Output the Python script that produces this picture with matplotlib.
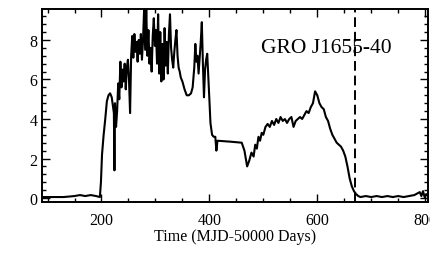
import matplotlib
matplotlib.use("Agg")
import matplotlib.pyplot as plt
from matplotlib.ticker import MultipleLocator

# light curve (MJD-50000, flux)
t = [90, 110, 130, 150, 160, 170, 180, 190, 197,
     199, 201, 204, 207, 210, 213, 216, 219, 221, 223, 224, 225, 227, 229,
     231, 233, 235, 237, 239, 241, 243, 245, 247, 249, 251, 253, 255, 257,
     259, 261, 263, 265, 267, 269, 271, 273, 275, 277, 279, 281, 283, 285,
     287, 289, 291, 293, 295, 297, 299, 301, 303, 305, 307, 309, 311, 313,
     315, 317, 319, 321, 323, 325, 327, 329, 331, 333, 335, 337, 339, 341,
     343, 345, 347, 350, 354, 358, 362, 366, 369, 372, 374, 376, 378, 380,
     382, 384, 386, 388, 390, 392, 394, 396, 398, 400, 402, 405, 408, 411,
     413, 415, 440, 460, 465, 470, 474, 478, 482, 485, 488, 491, 494, 497,
     500, 504, 508, 512, 516, 520, 524, 528, 532, 536, 540, 544, 548, 552,
     556, 560, 564, 568, 572, 576, 580, 584, 588, 592, 596, 600, 604, 608,
     612, 616, 620, 624, 628, 632, 636, 640, 644, 648, 652, 656, 660, 664,
     668, 672, 676, 680, 690, 700, 710, 720, 730, 740, 750, 760, 770, 780,
     790, 793, 796, 799, 802, 805]
flux = [0.05, 0.05, 0.05, 0.1, 0.15, 0.1, 0.15, 0.1, 0.05,
        0.8, 2.2, 3.2, 4.0, 4.9, 5.2, 5.3, 5.1, 4.7, 4.3, 1.4, 4.8, 3.6, 4.4,
        5.8, 5.0, 6.9, 5.6, 6.5, 5.9, 6.8, 5.5, 6.6, 7.0, 6.0, 4.3, 7.2, 8.2,
        7.1, 8.3, 7.4, 7.9, 6.9, 8.0, 7.3, 8.3, 7.0, 8.0, 9.5, 7.5, 9.6, 7.2,
        8.5, 6.8, 7.6, 6.4, 8.2, 9.1, 7.7, 8.5, 6.8, 9.3, 6.3, 8.4, 5.9, 7.8,
        6.0, 8.6, 6.7, 7.9, 6.3, 8.3, 9.3, 7.6, 7.0, 6.6, 7.4, 8.0, 8.5, 7.2,
        6.6, 6.4, 6.1, 5.9, 5.5, 5.2, 5.2, 5.3, 5.6, 6.6, 7.8, 6.9, 7.2, 6.3,
        7.1, 7.9, 8.9, 6.8, 5.1, 6.5, 7.0, 7.3, 6.2, 5.0, 3.8, 3.2, 3.1, 3.1,
        2.4, 2.9, 2.85, 2.8, 2.4, 1.6, 1.9, 2.3, 2.1, 2.7, 2.5, 3.1, 2.9, 3.3,
        3.2, 3.6, 3.75, 3.6, 3.9, 3.7, 4.0, 3.8, 4.1, 3.9, 4.0, 3.8, 4.0, 4.1,
        3.6, 3.9, 4.0, 4.1, 4.0, 4.2, 4.4, 4.3, 4.6, 4.8, 5.4, 5.2, 4.8, 4.6,
        4.5, 4.1, 3.9, 3.5, 3.2, 3.0, 2.8, 2.7, 2.6, 2.4, 2.1, 1.6, 1.0, 0.6,
        0.35, 0.2, 0.1, 0.05, 0.1, 0.05, 0.1, 0.05, 0.1, 0.05, 0.1, 0.05, 0.1, 0.15,
        0.3, 0.1, 0.35, 0.05, 0.2, 0.1]
t_mark = 670
source = "GRO J1655-40"

plt.rcParams["font.family"] = ["Liberation Serif", "DejaVu Serif"]

fig = plt.figure(figsize=(4.3, 2.55), dpi=100)
ax = fig.add_axes([0.098, 0.204, 0.897, 0.757])

ax.plot(t, flux, color="black", lw=1.5)
ax.axvline(t_mark, color="black", lw=1.4, ls=(0, (5, 2.5)))
ax.text(0.738, 0.80, source, transform=ax.transAxes, ha="center", va="center",
        fontsize=15.5)

ax.set_xlim(90, 805)
ax.set_ylim(-0.2, 9.57)
ax.xaxis.set_major_locator(MultipleLocator(200))
ax.xaxis.set_minor_locator(MultipleLocator(50))
ax.yaxis.set_major_locator(MultipleLocator(2))
ax.yaxis.set_minor_locator(MultipleLocator(0.4))
ax.tick_params(which="both", direction="in", top=True, right=True, labelsize=11.5,
               width=1.0)
ax.tick_params(axis="x", which="major", pad=7)
ax.tick_params(which="major", length=6)
ax.tick_params(which="minor", length=3)
for sp in ax.spines.values():
    sp.set_linewidth(1.4)
ax.set_xlabel("Time (MJD-50000 Days)", fontsize=11.5, labelpad=0)

fig.savefig("out.png", dpi=100)
